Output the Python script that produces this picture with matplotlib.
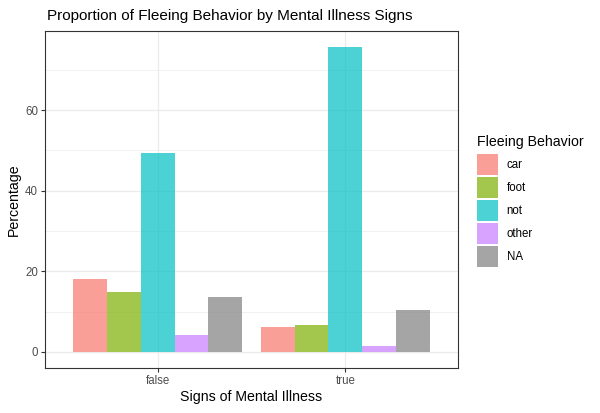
import matplotlib.pyplot as plt
import matplotlib.patches as mpatches
import numpy as np

plt.rcParams['font.family'] = ['Liberation Sans', 'DejaVu Sans']

# data
groups = ['false', 'true']
behaviors = ['car', 'foot', 'not', 'other', 'NA']
pct_false = [18.1, 14.9, 49.3, 4.2, 13.6]
pct_true = [6.2, 6.7, 75.7, 1.5, 10.4]
colors = ['#F8766D', '#7CAE00', '#00BFC4', '#C77CFF', '#7F7F7F']

fig = plt.figure(figsize=(6, 4.13), dpi=100)
ax = fig.add_axes([45 / 600, 45 / 413, 413 / 600, 337 / 413])

x = np.arange(1, len(groups) + 1)
w = 0.9 / len(behaviors)
vals = np.array([pct_false, pct_true])
for i, b in enumerate(behaviors):
    ax.bar(x - 0.45 + w * (i + 0.5), vals[:, i], width=w, color=colors[i],
           alpha=0.7, linewidth=0, zorder=3, label=b)

ax.set_xlim(0.4, 2.6)
ax.set_ylim(-3.97, 79.6)
ax.set_xticks(x)
ax.set_xticklabels(groups)
ax.set_yticks([0, 20, 40, 60])
ax.set_yticks([10, 30, 50, 70], minor=True)
ax.grid(which='major', color='#EBEBEB', linewidth=0.9, zorder=0)
ax.grid(which='minor', axis='y', color='#EBEBEB', linewidth=0.5, zorder=0)
ax.tick_params(which='major', length=3, width=0.8, color='#333333',
               labelsize=8.3, labelcolor='#4D4D4D', pad=2)
ax.tick_params(which='minor', length=0)
for s in ax.spines.values():
    s.set_color('#333333')
    s.set_linewidth(0.8)

ax.set_xlabel('Signs of Mental Illness', fontsize=10.2, labelpad=2)
ax.set_ylabel('Percentage', fontsize=10.2, labelpad=3)
fig.text(47 / 600, 1 - 16 / 413, 'Proportion of Fleeing Behavior by Mental Illness Signs',
         fontsize=11, va='center', ha='left')

handles = [mpatches.Patch(color=c, alpha=0.7, linewidth=0) for c in colors]
leg = fig.legend(handles, behaviors, loc='upper left',
                 bbox_to_anchor=(477 / 600, 1 - 135 / 413),
                 title='Fleeing Behavior', title_fontsize=10.2, fontsize=8.3,
                 frameon=False, handlelength=1.85, handleheight=2.39,
                 labelspacing=0.2, handletextpad=0.72, borderpad=0,
                 borderaxespad=0)
leg._legend_box.align = 'left'
leg._legend_box.sep = 3.8

plt.savefig('out.png', dpi=100)
